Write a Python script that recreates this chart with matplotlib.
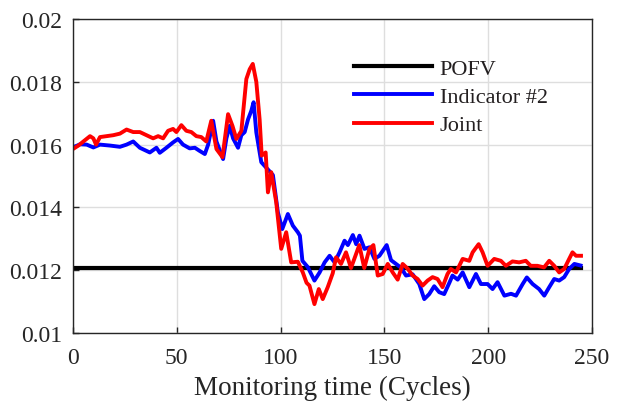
import numpy as np
import matplotlib
matplotlib.use("Agg")
import matplotlib.pyplot as plt

# POFV threshold (constant)
pofv_x = [0, 244.6]
pofv_y = [0.01207, 0.01207]

# Indicator #2
ind_x = [0, 3.4, 6.6, 9.8, 13, 17.8, 22.6, 25.8, 29, 32.2, 37, 40.2, 41.8, 45,
         48.2, 50.6, 53, 56.2, 58.7, 61, 63.5, 65.1, 67.5, 69.1, 72.3, 73.9,
         75.5, 77.1, 79.5, 81.1, 82.7, 84.3, 85.9, 87, 88.3, 90.7, 94.4, 96.3,
         98.7, 100.8, 103.5, 105.9, 108.3, 109.3, 110.5, 113.1, 116.3, 118.8,
         121.2, 123.6, 126, 128.4, 130.8, 132.4, 134.8, 136.4, 138, 140.4,
         142.8, 145.2, 147.6, 151.1, 153.2, 155.6, 158, 160.4, 163.6, 166.8,
         169.2, 171.6, 174, 176.4, 178.8, 181.3, 182.8, 185.3, 187.7, 190.9,
         194.1, 196.5, 199.7, 202.1, 204.5, 207.8, 211, 213.4, 216.6, 218.6,
         221.4, 224.5, 227, 229.4, 231.8, 234.2, 236.6, 239, 241.5, 244.5]
ind_y = [0.01591, 0.01601, 0.0160, 0.01591, 0.0160, 0.01597, 0.01593, 0.0160,
         0.0161, 0.0159, 0.01575, 0.0159, 0.01574, 0.0159, 0.01607, 0.01618,
         0.0160, 0.01588, 0.0159, 0.0158, 0.0157, 0.0160, 0.01676, 0.0161,
         0.01554, 0.0162, 0.0166, 0.0162, 0.0159, 0.0163, 0.0164, 0.0168,
         0.01708, 0.01735, 0.01639, 0.01544, 0.01517, 0.01503, 0.01384,
         0.01331, 0.01379, 0.01342, 0.01321, 0.0131, 0.0123, 0.0121, 0.01167,
         0.01193, 0.01225, 0.01246, 0.01225, 0.01257, 0.01294, 0.0128, 0.01312,
         0.01283, 0.0131, 0.01268, 0.01273, 0.01236, 0.01246, 0.0128, 0.01232,
         0.0122, 0.01208, 0.01183, 0.01187, 0.01156, 0.01108, 0.01124, 0.01149,
         0.0113, 0.01124, 0.0116, 0.01183, 0.0117, 0.01193, 0.01146, 0.01188,
         0.01156, 0.01156, 0.0114, 0.01162, 0.01119, 0.01125, 0.01119, 0.01156,
         0.01177, 0.01156, 0.0114, 0.01119, 0.01146, 0.01172, 0.01167, 0.01178,
         0.01204, 0.0122, 0.01215]

# Joint
joint_x = [0, 2.6, 5, 8.2, 9.8, 11.1, 13, 16.2, 19.4, 22.6, 25.8, 29, 32.2,
           35.4, 38.6, 41, 43.4, 45.8, 48.2, 49.8, 52.2, 54.6, 57, 59.4, 61.8,
           64.2, 66.6, 69.1, 72, 74.7, 76.8, 78.7, 81.1, 83.5, 85.1, 86.6,
           88.3, 89.9, 90.9, 92.8, 93.9, 95.5, 97.9, 100.3, 102.7, 105.1,
           108.3, 110.7, 112.5, 113.9, 116.3, 118.4, 120.3, 122.7, 125.1,
           126.7, 129.1, 131.5, 133.9, 135.5, 137.9, 140.3, 142.8, 144.7,
           146.8, 149.2, 151.6, 154, 156.4, 158.8, 161.2, 163.6, 166, 168.4,
           170.8, 173.2, 175.6, 178, 180.4, 182, 184.5, 187.7, 190.9, 192.5,
           195.4, 197.3, 199.7, 202.9, 206.1, 208.5, 211.7, 214.9, 218.1,
           220.5, 223.7, 226.9, 229.4, 231.8, 234.2, 236.6, 239, 240.6, 242.3,
           244.7]
joint_y = [0.01586, 0.01597, 0.0161, 0.01627, 0.0162, 0.0160, 0.01624, 0.01627,
           0.0163, 0.01635, 0.01648, 0.0164, 0.0164, 0.0163, 0.0162, 0.01627,
           0.0162, 0.01644, 0.0165, 0.0164, 0.01662, 0.01644, 0.0164, 0.01627,
           0.01624, 0.0161, 0.01676, 0.01586, 0.0156, 0.01697, 0.0166, 0.01618,
           0.01644, 0.01809, 0.0184, 0.01857, 0.0180, 0.0168, 0.01565, 0.01575,
           0.01448, 0.01512, 0.01416, 0.01268, 0.01321, 0.01225, 0.01227,
           0.01193, 0.0116, 0.01151, 0.01092, 0.0114, 0.01108, 0.01146, 0.0119,
           0.01241, 0.0122, 0.01257, 0.01207, 0.01236, 0.0128, 0.01207, 0.01268,
           0.0128, 0.01183, 0.01188, 0.0122, 0.01193, 0.0117, 0.0122, 0.01205,
           0.01183, 0.01172, 0.01151, 0.01167, 0.01178, 0.01172, 0.01146,
           0.01188, 0.01204, 0.01193, 0.01236, 0.0123, 0.01257, 0.01283,
           0.01257, 0.01214, 0.01236, 0.0123, 0.01214, 0.01228, 0.01225, 0.0123,
           0.01214, 0.01214, 0.01209, 0.0123, 0.01214, 0.01193, 0.01204,
           0.01236, 0.01257, 0.01246, 0.01246]

xticks = [0, 50, 100, 150, 200, 250]
yticks = [0.01, 0.012, 0.014, 0.016, 0.018, 0.02]
ytick_labels = ["0.01", "0.012", "0.014", "0.016", "0.018", "0.02"]

plt.rcParams['font.family'] = ['Liberation Serif', 'DejaVu Serif']
txt = '#262626'

fig = plt.figure(figsize=(6.25, 4.06), dpi=100)
ax = fig.add_axes([0.1168, 0.1773, 0.8304, 0.7734])

ax.plot(pofv_x, pofv_y, color='black', lw=3, label='POFV')
ax.plot(ind_x, ind_y, color='#0000ff', lw=2.8, label='Indicator #2')
ax.plot(joint_x, joint_y, color='#ff0000', lw=2.8, label='Joint')

ax.set_xlim(0, 250)
ax.set_ylim(0.01, 0.02)
ax.set_xticks(xticks)
ax.set_yticks(yticks)
ax.set_yticklabels(ytick_labels)
ax.grid(True, color='#dedede', lw=1)
ax.set_axisbelow(True)
ax.tick_params(direction='in', length=4, width=1, colors=txt,
               labelsize=17, pad=8)
ax.tick_params(axis='x', pad=10)
for s in ax.spines.values():
    s.set_color(txt)
    s.set_linewidth(1)

ax.set_xlabel('Monitoring time (Cycles)', fontsize=19.5, color=txt, labelpad=5)

leg = ax.legend(loc='upper left', bbox_to_anchor=(0.541, 0.874), frameon=False,
                fontsize=16, handlelength=3.5, handletextpad=0.36,
                labelspacing=0.34, borderpad=0, borderaxespad=0)
for t in leg.get_texts():
    t.set_color('#231f20')

fig.savefig('out.png', dpi=100)
